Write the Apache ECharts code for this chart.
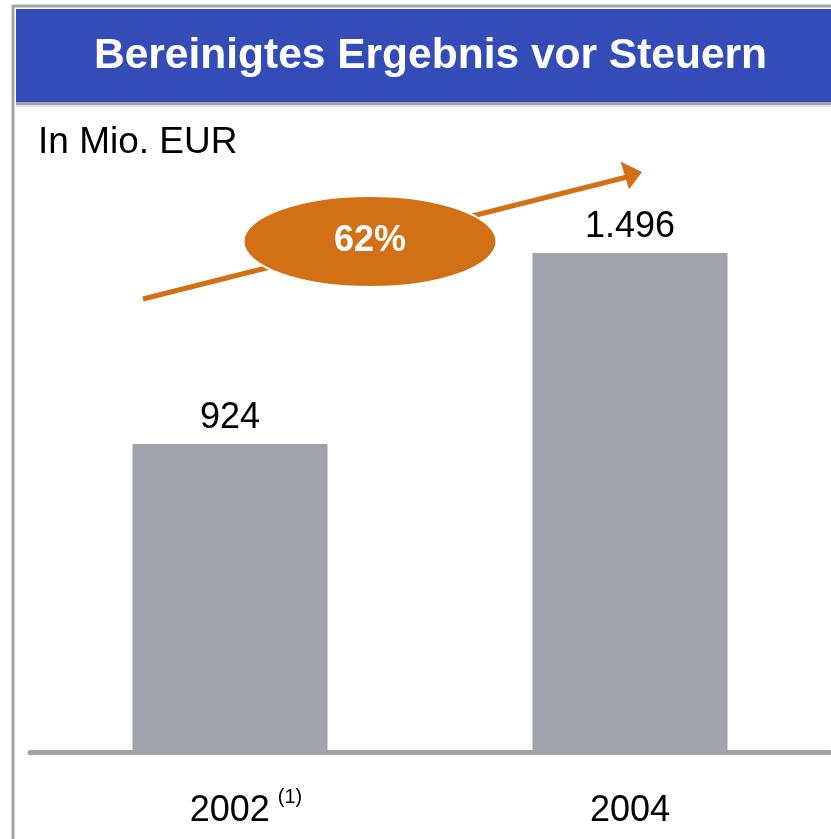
<!DOCTYPE html>
<html>
<head>
<meta charset="utf-8">
<script src="https://cdn.jsdelivr.net/npm/echarts@6/dist/echarts.min.js"></script>
<style>html,body{margin:0;padding:0;background:#fff}#c{width:831px;height:839px}</style>
</head>
<body>
<div id="c"></div>
<script>
var title = 'Bereinigtes Ergebnis vor Steuern';
var unitLabel = 'In Mio. EUR';
var categories = ['2002', '2004'];
var categoryNotes = ['(1)', ''];
var values = [924, 1496];
var valueLabels = ['924', '1.496'];
var growthLabel = '62%';

var FONT = '"Liberation Sans", Arial, sans-serif';
var chart = echarts.init(document.getElementById('c'));
chart.setOption({
  animation: false,
  backgroundColor: '#ffffff',
  grid: { left: 30, right: 1, top: 151.5, bottom: 86.5 },
  xAxis: {
    type: 'category',
    data: categories,
    axisLine: { show: true, lineStyle: { color: '#a2a2aa', width: 5 } },
    axisTick: { show: false },
    axisLabel: {
      margin: 35,
      fontFamily: FONT,
      fontSize: 36,
      color: '#000',
      formatter: function (v, i) {
        var n = categoryNotes[i];
        return n ? '{mp|' + v + '}{sup|' + n + '}' : '{m|' + v + '}';
      },
      rich: {
        m: { fontSize: 36, lineHeight: 48, fontFamily: FONT, color: '#000' },
        mp: { fontSize: 36, lineHeight: 48, fontFamily: FONT, color: '#000', padding: [0, 0, 0, 32] },
        sup: { fontSize: 20, lineHeight: 20, fontFamily: FONT, color: '#000', verticalAlign: 'top', padding: [0, 0, 0, 8] }
      }
    }
  },
  yAxis: {
    type: 'value', min: 0, max: 1800,
    show: false, splitLine: { show: false }
  },
  series: [{
    type: 'bar',
    data: values,
    barWidth: 195,
    itemStyle: { color: '#a2a2aa' },
    label: {
      show: true, position: 'top', distance: 8,
      fontFamily: FONT, fontSize: 36, color: '#000',
      formatter: function (p) { return valueLabels[p.dataIndex]; }
    }
  }],
  graphic: [
    { type: 'rect', shape: { x: 13, y: 6, width: 830, height: 840 }, style: { fill: 'none', stroke: '#a3a3ab', lineWidth: 3 }, z: 1 },
    { type: 'rect', shape: { x: 16, y: 9, width: 820, height: 93 }, style: { fill: '#344cb7' }, z: 2 },
    { type: 'rect', shape: { x: 16, y: 102, width: 820, height: 3 }, style: { fill: '#a3a3ab' }, z: 2 },
    { type: 'rect', shape: { x: 16, y: 105, width: 820, height: 2 }, style: { fill: '#e2e2e6' }, z: 2 },
    { type: 'text', x: 430.5, y: 56, style: { text: title, fontFamily: FONT, fontSize: 42.5, fontWeight: 'bold', fill: '#ffffff', textAlign: 'center', textVerticalAlign: 'middle' }, z: 3 },
    { type: 'text', x: 38, y: 143, style: { text: unitLabel, fontFamily: FONT, fontSize: 37, fill: '#000', textAlign: 'left', textVerticalAlign: 'middle' }, z: 3 },
    { type: 'line', shape: { x1: 143, y1: 299, x2: 627, y2: 177 }, style: { stroke: '#d27016', lineWidth: 5 }, z: 3 },
    { type: 'polygon', shape: { points: [[620.5, 161.5], [642, 172], [629, 189.5]] }, style: { fill: '#d27016' }, z: 3 },
    { type: 'ellipse', shape: { cx: 370, cy: 241.5, rx: 126.5, ry: 45.5 }, style: { fill: '#d27016', stroke: '#ffffff', lineWidth: 2 }, z: 4 },
    { type: 'text', x: 370, y: 241.5, style: { text: growthLabel, fontFamily: FONT, fontSize: 36, fontWeight: 'bold', fill: '#ffffff', textAlign: 'center', textVerticalAlign: 'middle' }, z: 5 }
  ]
});
</script>
</body>
</html>
